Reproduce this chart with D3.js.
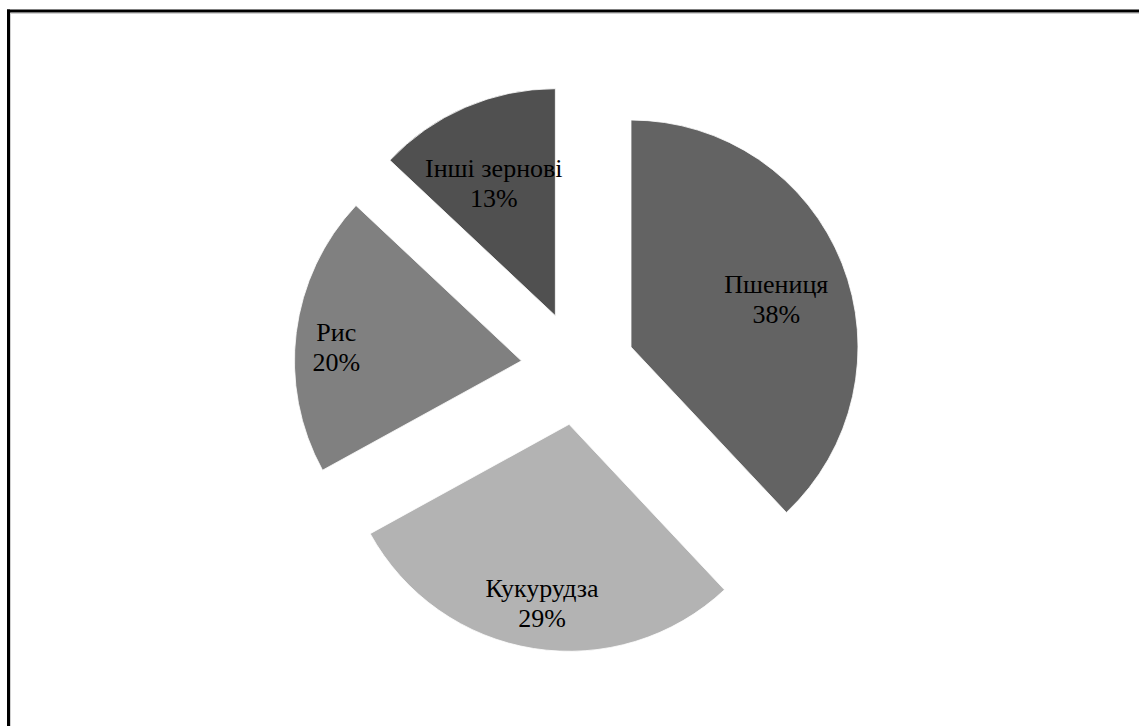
<!DOCTYPE html>
<html>
<head>
<meta charset="utf-8">
<script src="https://cdn.jsdelivr.net/npm/d3@7"></script>
<style>
  body { margin: 0; background: #fff; }
  svg { display: block; }
  .lbl { font-family: "Liberation Serif", "Times New Roman", serif; font-size: 26px; fill: #000; }
</style>
</head>
<body>
<svg id="chart" width="1139" height="726"></svg>
<script>
// crops share, percent
const categories = ["Пшениця", "Кукурудза", "Рис", "Інші зернові"];
const shares = [38, 29, 20, 13];
const colors = ["#636363", "#b3b3b3", "#808080", "#505050"];

const W = 1139, H = 726;
const cx = 578, cy = 368;
const radius = 227;
const explode = 57;

const svg = d3.select("#chart");

// frame: only top and left edges are visible
svg.append("line")
    .attr("x1", 7).attr("x2", W).attr("y1", 13.5).attr("y2", 13.5)
    .attr("stroke", "#d0d0d0").attr("stroke-width", 1);
svg.append("line")
    .attr("x1", 10.5).attr("x2", 10.5).attr("y1", 12).attr("y2", H)
    .attr("stroke", "#d0d0d0").attr("stroke-width", 1);
svg.append("line")
    .attr("x1", 7).attr("x2", W).attr("y1", 11).attr("y2", 11)
    .attr("stroke", "#000").attr("stroke-width", 3);
svg.append("line")
    .attr("x1", 8.5).attr("x2", 8.5).attr("y1", 9.5).attr("y2", H)
    .attr("stroke", "#000").attr("stroke-width", 3);

const data = categories.map((c, i) => ({ name: c, value: shares[i], color: colors[i] }));

const pie = d3.pie().sort(null).value(d => d.value);
const arc = d3.arc().innerRadius(0).outerRadius(radius);
const mid = d => (d.startAngle + d.endAngle) / 2;

const g = svg.append("g").attr("transform", `translate(${cx},${cy})`);

const slices = g.selectAll("g.slice")
    .data(pie(data))
    .join("g")
    .attr("class", "slice")
    .attr("transform", d => `translate(${Math.sin(mid(d)) * explode},${-Math.cos(mid(d)) * explode})`);

slices.append("path")
    .attr("d", arc)
    .attr("fill", d => d.data.color)
    .attr("stroke", "#fff")
    .attr("stroke-width", 0.8);

const labels = slices.append("text")
    .attr("class", "lbl")
    .attr("text-anchor", "middle");

labels.append("tspan")
    .attr("x", 0).attr("dy", 0)
    .text(d => d.data.name);
labels.append("tspan")
    .attr("x", 0).attr("dy", 30)
    .text(d => d.data.value + "%");

// push each label box out along the bisector until its far corner
// reaches ~95% of the radius; the box carries a little top padding
const fitR = radius * 0.95;
const padTop = 10;
labels.each(function (d) {
    const b = this.getBBox();
    const hw = b.width / 2, hh = b.height / 2;
    const ux = Math.sin(mid(d)), uy = -Math.cos(mid(d));
    const p = Math.abs(ux) * hw + Math.abs(uy) * hh;
    const t = -p + Math.sqrt(p * p - (hw * hw + hh * hh - fitR * fitR));
    const bx = b.x + hw, by = b.y + hh - padTop;
    d3.select(this).attr("transform", `translate(${t * ux - bx},${t * uy - by})`);
});
</script>
</body>
</html>
